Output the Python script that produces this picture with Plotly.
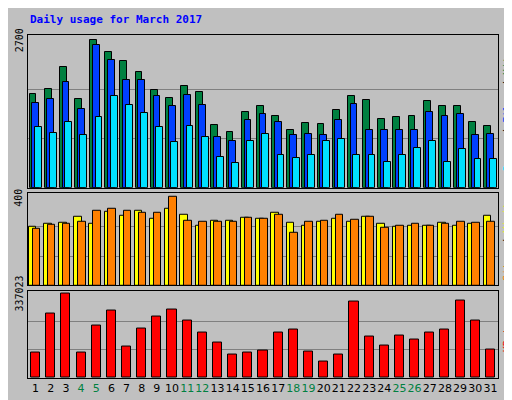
import plotly.graph_objects as go
from plotly.subplots import make_subplots

days = list(range(1, 32))
weekend = {4, 5, 11, 12, 18, 19, 25, 26}

hits = [1720, 1810, 2210, 1630, 2700, 2490, 2320, 2110, 1790, 1640, 1870, 1760, 1150, 1020, 1380, 1490,
        1320, 1060, 1190, 1170, 1420, 1680, 1610, 1250, 1300, 1320, 1590, 1490, 1490, 1210, 1130]
files = [1550, 1630, 1930, 1440, 2620, 2340, 1980, 1980, 1680, 1490, 1700, 1510, 920, 850, 1230, 1340,
         1210, 960, 980, 960, 1230, 1530, 1060, 1060, 1060, 1060, 1380, 1320, 1340, 960, 980]
pages = [1110, 1000, 1210, 960, 1300, 1680, 1510, 1360, 1110, 830, 1130, 920, 570, 450, 850, 980,
         600, 550, 600, 850, 890, 600, 600, 470, 600, 720, 850, 470, 700, 530, 530]
visits = [266, 280, 284, 311, 280, 337, 315, 342, 302, 351, 320, 271, 293, 293, 306, 302,
          333, 284, 271, 289, 302, 289, 311, 280, 266, 271, 271, 284, 271, 280, 315]
sites = [258, 275, 280, 289, 342, 351, 342, 333, 329, 404, 293, 289, 289, 289, 306, 302,
         320, 240, 289, 293, 320, 297, 311, 262, 271, 280, 271, 280, 289, 284, 289]
kbytes = [100700, 255700, 337023, 100700, 209200, 267300, 124000, 197600, 244100, 271200, 228600,
          182100, 143300, 93000, 100700, 108500, 182100, 193700, 104600, 65900, 93000, 306000,
          166600, 127800, 170500, 155000, 182100, 193700, 309900, 228600, 112300]

tick_text = ["<span style='color:#008040'>%d</span>" % d if d in weekend else str(d) for d in days]

fig = make_subplots(rows=3, cols=1, shared_xaxes=True, vertical_spacing=0.015,
                    row_heights=[0.445, 0.27, 0.255])

def bar(y, color, off, w, row):
    fig.add_trace(go.Bar(x=days, y=y, offset=off, width=w,
                         marker=dict(color=color, line=dict(color='black', width=1)),
                         showlegend=False), row=row, col=1)

bar(hits, '#008040', -0.4, 0.45, 1)
bar(files, '#0040FF', -0.22, 0.45, 1)
bar(pages, '#00E0FF', -0.04, 0.45, 1)
bar(visits, '#FFFF00', -0.45, 0.5, 2)
bar(sites, '#FF8000', -0.2, 0.5, 2)
bar(kbytes, '#FF0000', -0.3, 0.6, 3)

fig.update_layout(
    width=512, height=400, barmode='overlay', bargap=0,
    paper_bgcolor='#C0C0C0', plot_bgcolor='#C0C0C0',
    margin=dict(l=20, r=22, t=27, b=30),
    font=dict(family='DejaVu Sans Mono', size=10, color='black'),
)
fig.update_xaxes(range=[0.5, 31.5], showgrid=False, showline=True, mirror=True, linecolor='black',
                 tickvals=days, ticktext=tick_text, ticks='', tickangle=0,
                 tickfont=dict(size=11, family='DejaVu Sans'))
fig.update_xaxes(showticklabels=False, row=1, col=1)
fig.update_xaxes(showticklabels=False, row=2, col=1)
fig.update_yaxes(showticklabels=False, showline=True, mirror=True, linecolor='black',
                 gridcolor='#808080', zeroline=False, ticks='')
fig.update_yaxes(range=[0, 2795], tickvals=[900, 1800], row=1, col=1)
fig.update_yaxes(range=[0, 422], tickvals=[133, 267], row=2, col=1)
fig.update_yaxes(range=[0, 348600], tickvals=[112341, 224682], row=3, col=1)

fig.add_annotation(text="<b>Daily usage for March 2017</b>", xref='paper', yref='paper', x=0, y=1.02,
                   xanchor='left', yanchor='bottom', showarrow=False, font=dict(color='#0000FF', size=11))
for yv, yr, txt in [(2700, 'y', '2700'), (400, 'y2', '400'), (337023, 'y3', '337023')]:
    fig.add_annotation(text=txt, xref='paper', yref=yr, x=-0.003, y=yv, xanchor='right', yanchor='middle',
                       textangle=-90, showarrow=False, font=dict(size=10))
right = [("<span style='color:#00E0FF'>Pages</span> / <span style='color:#0040FF'>Files</span> / "
          "<span style='color:#008040'>Hits</span>", 'y domain'),
         ("<span style='color:#FF8000'>Sites</span> / <span style='color:#FFFF00'>Visits</span>", 'y2 domain'),
         ("<span style='color:#FF0000'>KBytes</span>", 'y3 domain')]
for txt, yr in right:
    fig.add_annotation(text=txt, xref='paper', yref=yr, x=1.003, y=0.5, xanchor='left', yanchor='middle',
                       textangle=-90, showarrow=False, font=dict(size=10))

fig.write_html("out.html")
